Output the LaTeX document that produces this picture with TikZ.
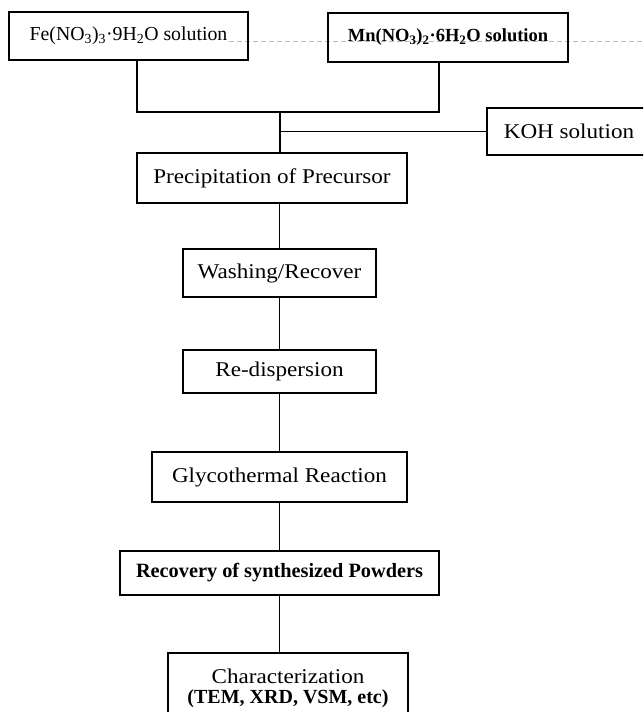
\documentclass[tikz,border=0pt]{standalone}
\usepackage{fontspec}
\setmainfont{Liberation Serif}
\newfontfamily\wf[FakeStretch=1.1]{Liberation Serif}
\begin{document}
\begin{tikzpicture}[x=1pt,y=-1pt,
  box/.style={draw,line width=1.6pt,inner sep=0pt,anchor=center},
  conn/.style={line width=1.5pt},
  wtext/.style={font=\wf\fontsize{21}{25}\selectfont},
  btext/.style={font=\bfseries\fontsize{20.3}{23}\selectfont}]
\useasboundingbox (0,0) rectangle (643,712);
\clip (0,0) rectangle (643,712);
\draw[gray!55,line width=0.6pt,dash pattern=on 5pt off 3pt] (229,41) -- (643,41);
\node[box,minimum width=239,minimum height=48,font=\fontsize{19.8}{23}\selectfont] (fe) at (128.5,36) {Fe(NO\textsubscript{3})\textsubscript{3}·9H\textsubscript{2}O solution};
\node[box,minimum width=240,minimum height=49,font=\bfseries\fontsize{18.5}{22}\selectfont] (mn) at (448,37.5) {Mn(NO\textsubscript{3})\textsubscript{2}·6H\textsubscript{2}O solution};
\node[box,wtext,minimum width=164,minimum height=47] (koh) at (569,131.5) {KOH solution};
\node[box,wtext,minimum width=270,minimum height=50] (prec) at (272,178) {Precipitation of Precursor};
\node[box,wtext,minimum width=193,minimum height=48] (wash) at (279.5,273) {Washing/Recover};
\node[box,wtext,minimum width=193,minimum height=43] (redis) at (279.5,371.5) {Re-dispersion};
\node[box,wtext,minimum width=255,minimum height=50] (glyco) at (279.5,477) {Glycothermal Reaction};
\node[box,btext,minimum width=319,minimum height=44] (recov) at (279.5,573) {Recovery of synthesized Powders};
\node[box,minimum width=240,minimum height=70,align=center,font=\wf\fontsize{21}{20}\selectfont] (char) at (288,688) {Characterization\\{\rmfamily\bfseries\fontsize{20}{20}\selectfont (TEM, XRD, VSM, etc)}};
\coordinate (j) at (280,112);
\draw[conn] ([xshift=8.5pt]fe.south) |- (j) -| ([xshift=-9pt]mn.south);
\draw[conn] (j) -- (j |- prec.north);
\draw[conn] (j |- koh.west) -- (koh.west);
\draw[conn] (wash.north) -- (wash.north |- prec.south);
\draw[conn] (wash.south) -- (redis.north);
\draw[conn] (redis.south) -- (glyco.north);
\draw[conn] (glyco.south) -- (recov.north);
\draw[conn] (recov.south) -- (recov.south |- char.north);
\end{tikzpicture}
\end{document}
